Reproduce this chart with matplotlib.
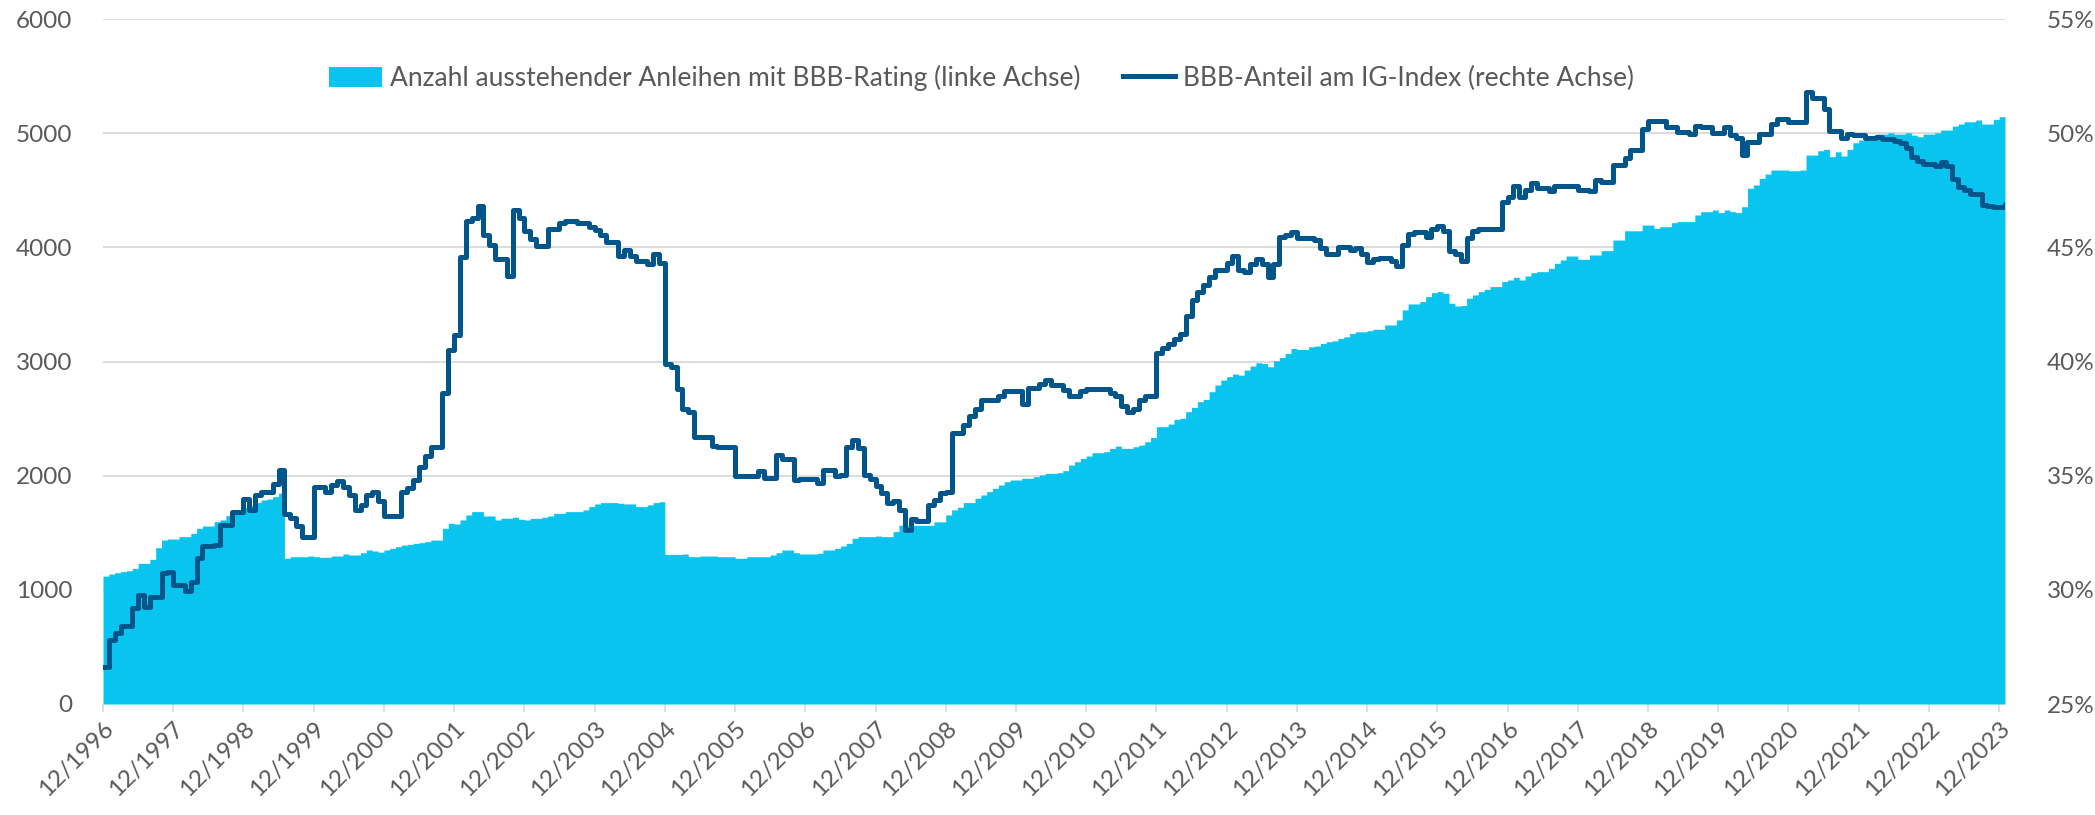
import matplotlib

matplotlib.use("Agg")
import matplotlib.pyplot as plt
from matplotlib.patches import Patch
from matplotlib.lines import Line2D
import numpy as np

# monthly values, first entry = 12/1996, last = 01/2024
first_year = 1996
n_years_ticks = 28

bbb_count = [
    1120, 1138, 1150, 1159, 1167, 1188, 1232, 1232, 1267, 1369, 1436, 1445,
    1445, 1466, 1466, 1495, 1539, 1559, 1559, 1597, 1612, 1650, 1685, 1700,
    1720, 1740, 1765, 1787, 1795, 1816, 1846, 1276, 1290, 1290, 1290, 1296,
    1290, 1285, 1285, 1296, 1296, 1314, 1305, 1305, 1325, 1349, 1340, 1330,
    1349, 1363, 1378, 1392, 1398, 1407, 1413, 1422, 1436, 1436, 1539, 1583,
    1577, 1612, 1656, 1685, 1685, 1647, 1647, 1612, 1627, 1627, 1636, 1618,
    1612, 1626, 1626, 1636, 1647, 1670, 1670, 1685, 1685, 1685, 1700, 1729,
    1752, 1764, 1764, 1764, 1758, 1752, 1752, 1729, 1729, 1744, 1764, 1772,
    1310, 1310, 1310, 1314, 1290, 1290, 1296, 1296, 1296, 1290, 1290, 1290,
    1276, 1276, 1290, 1290, 1290, 1290, 1305, 1325, 1349, 1349, 1325, 1314,
    1314, 1314, 1320, 1349, 1349, 1363, 1384, 1407, 1451, 1466, 1466, 1466,
    1471, 1466, 1466, 1510, 1565, 1565, 1565, 1565, 1565, 1565, 1595, 1595,
    1656, 1700, 1723, 1764, 1764, 1802, 1831, 1860, 1889, 1918, 1947, 1962,
    1962, 1977, 1977, 1991, 2006, 2020, 2020, 2026, 2044, 2093, 2122, 2151,
    2172, 2201, 2201, 2210, 2239, 2259, 2239, 2239, 2253, 2268, 2297, 2335,
    2429, 2429, 2452, 2493, 2502, 2560, 2598, 2648, 2668, 2735, 2794, 2837,
    2867, 2890, 2881, 2925, 2960, 2989, 2983, 2954, 3006, 3035, 3071, 3114,
    3105, 3105, 3129, 3135, 3158, 3173, 3181, 3202, 3216, 3245, 3260, 3260,
    3270, 3282, 3282, 3320, 3320, 3364, 3452, 3504, 3504, 3525, 3568, 3603,
    3612, 3597, 3510, 3486, 3490, 3554, 3583, 3612, 3632, 3656, 3656, 3700,
    3714, 3737, 3714, 3749, 3778, 3787, 3787, 3816, 3860, 3889, 3924, 3924,
    3895, 3895, 3933, 3933, 3971, 3971, 4064, 4064, 4145, 4145, 4145, 4195,
    4195, 4166, 4181, 4181, 4216, 4225, 4225, 4225, 4283, 4312, 4312, 4327,
    4304, 4327, 4312, 4304, 4356, 4517, 4546, 4604, 4642, 4677, 4677, 4677,
    4671, 4671, 4677, 4808, 4808, 4846, 4858, 4794, 4837, 4800, 4858, 4916,
    4939, 4974, 4974, 4992, 4992, 5003, 4992, 4992, 5003, 4983, 4968, 4992,
    4992, 5003, 5027, 5027, 5062, 5080, 5100, 5100, 5115, 5080, 5080, 5121,
    5144, 5144,
]

bbb_share = [
    26.6, 27.8, 28.1, 28.4, 28.4, 29.2, 29.77, 29.26, 29.7, 29.7, 30.72, 30.8,
    30.2, 30.2, 29.97, 30.35, 31.38, 31.9, 31.9, 31.95, 32.84, 32.84, 33.42, 33.42,
    34.0, 33.5, 34.15, 34.3, 34.3, 34.65, 35.25, 33.3, 33.15, 32.8, 32.3, 32.33,
    34.5, 34.5, 34.3, 34.6, 34.75, 34.5, 34.15, 33.5, 33.7, 34.15, 34.3, 33.9,
    33.25, 33.25, 33.25, 34.3, 34.45, 34.8, 35.4, 35.85, 36.25, 36.25, 38.6, 40.5,
    41.15, 44.56, 46.16, 46.3, 46.8, 45.55, 45.1, 44.5, 44.5, 43.75, 46.65, 46.3,
    45.7, 45.35, 45.05, 45.05, 45.8, 45.8, 46.05, 46.15, 46.15, 46.05, 46.05, 45.9,
    45.75, 45.55, 45.25, 45.25, 44.6, 44.9, 44.6, 44.4, 44.4, 44.25, 44.7, 44.3,
    39.9, 39.75, 38.8, 37.9, 37.8, 36.7, 36.7, 36.7, 36.3, 36.27, 36.27, 36.27,
    35.0, 35.0, 35.0, 35.0, 35.2, 34.9, 34.9, 35.9, 35.75, 35.75, 34.8, 34.85,
    34.85, 34.85, 34.7, 35.25, 35.25, 35.0, 35.05, 36.27, 36.55, 36.2, 35.05, 34.85,
    34.55, 34.25, 33.8, 33.9, 33.5, 32.6, 33.1, 33.0, 33.0, 33.7, 33.95, 34.25,
    34.3, 36.85, 36.85, 37.2, 37.6, 37.9, 38.3, 38.3, 38.3, 38.5, 38.7, 38.7,
    38.7, 38.15, 38.85, 38.85, 39.0, 39.2, 38.95, 38.95, 38.75, 38.5, 38.5, 38.7,
    38.8, 38.8, 38.8, 38.8, 38.6, 38.5, 38.05, 37.8, 37.9, 38.3, 38.5, 38.5,
    40.36, 40.6, 40.75, 41.0, 41.2, 42.0, 42.7, 43.05, 43.35, 43.7, 44.0, 44.0,
    44.3, 44.6, 44.0, 43.9, 44.25, 44.5, 44.25, 43.7, 44.25, 45.47, 45.55, 45.65,
    45.4, 45.4, 45.4, 45.3, 44.95, 44.7, 44.7, 45.0, 45.0, 44.9, 44.96, 44.7,
    44.35, 44.5, 44.55, 44.55, 44.4, 44.2, 45.1, 45.6, 45.65, 45.65, 45.45, 45.8,
    45.95, 45.7, 44.85, 44.7, 44.4, 45.4, 45.7, 45.8, 45.8, 45.8, 45.8, 47.0,
    47.2, 47.7, 47.2, 47.5, 47.8, 47.6, 47.6, 47.45, 47.7, 47.7, 47.7, 47.7,
    47.5, 47.5, 47.45, 47.95, 47.85, 47.85, 48.6, 48.6, 48.9, 49.25, 49.25, 50.2,
    50.55, 50.55, 50.55, 50.25, 50.25, 50.05, 50.05, 49.95, 50.3, 50.25, 50.25, 50.0,
    50.0, 50.25, 49.9, 49.8, 49.05, 49.6, 49.6, 49.95, 49.95, 50.4, 50.6, 50.6,
    50.5, 50.5, 50.5, 51.8, 51.55, 51.55, 51.05, 50.1, 50.1, 49.8, 49.97, 49.9,
    49.9, 49.8, 49.8, 49.85, 49.75, 49.75, 49.65, 49.55, 49.35, 48.97, 48.8, 48.65,
    48.65, 48.55, 48.75, 48.55, 48.0, 47.65, 47.5, 47.35, 47.35, 46.85, 46.8, 46.75,
    46.75, 46.9,
]

tick_labels = [f"12/{first_year + i}" for i in range(n_years_ticks)]
left_ticks = [0, 1000, 2000, 3000, 4000, 5000, 6000]
right_ticks = [25, 30, 35, 40, 45, 50, 55]

label_area = "Anzahl ausstehender Anleihen mit BBB-Rating (linke Achse)"
label_line = "BBB-Anteil am IG-Index (rechte Achse)"

AREA = "#08C4EF"
LINE = "#00568A"
TEXT = "#595959"
GRID = "#D9D9D9"

plt.rcParams["font.family"] = ["Lato", "DejaVu Sans"]

months = np.arange(len(bbb_count))

fig = plt.figure(figsize=(20.95, 8.15), dpi=100)
ax = fig.add_axes([103 / 2095, 111 / 815, 1902 / 2095, 685 / 815])
ax2 = ax.twinx()

ax.fill_between(months, bbb_count, 0, step="post", color=AREA, linewidth=0)
ax2.step(months, bbb_share, where="post", color=LINE, linewidth=3.6,
         solid_joinstyle="round", solid_capstyle="round")

ax.set_xlim(0, months[-1])
ax.set_ylim(0, 6000)
ax2.set_ylim(25, 55)
ax.set_yticks(left_ticks)
ax.set_yticklabels([str(t) for t in left_ticks])
ax2.set_yticks(right_ticks)
ax2.set_yticklabels([f"{t}%" for t in right_ticks])

ax.set_axisbelow(True)
ax.grid(axis="y", color=GRID, linewidth=1.3)
ax.set_xticks(np.arange(n_years_ticks) * 12)
ax.set_xticklabels(tick_labels, rotation=45, ha="right", rotation_mode="anchor")

for a in (ax, ax2):
    for s in a.spines.values():
        s.set_visible(False)
ax.tick_params(axis="y", length=0, pad=22, labelsize=17.5, labelcolor=TEXT)
ax2.tick_params(axis="y", length=0, pad=30, labelsize=17.5, labelcolor=TEXT)
ax.tick_params(axis="x", length=6, width=1.2, color=GRID, pad=4,
               labelsize=17.5, labelcolor=TEXT)

handles = [
    Patch(facecolor=AREA, edgecolor="none", label=label_area),
    Line2D([0], [0], color=LINE, linewidth=3.6, label=label_line),
]
leg = ax2.legend(handles=handles, loc="upper center", bbox_to_anchor=(0.462, 0.968),
                 ncol=2, frameon=False, fontsize=19, handlelength=2.0,
                 handleheight=0.8, columnspacing=1.6, handletextpad=0.3)
for t in leg.get_texts():
    t.set_color(TEXT)

fig.savefig("out.png", dpi=100)
plt.close(fig)
